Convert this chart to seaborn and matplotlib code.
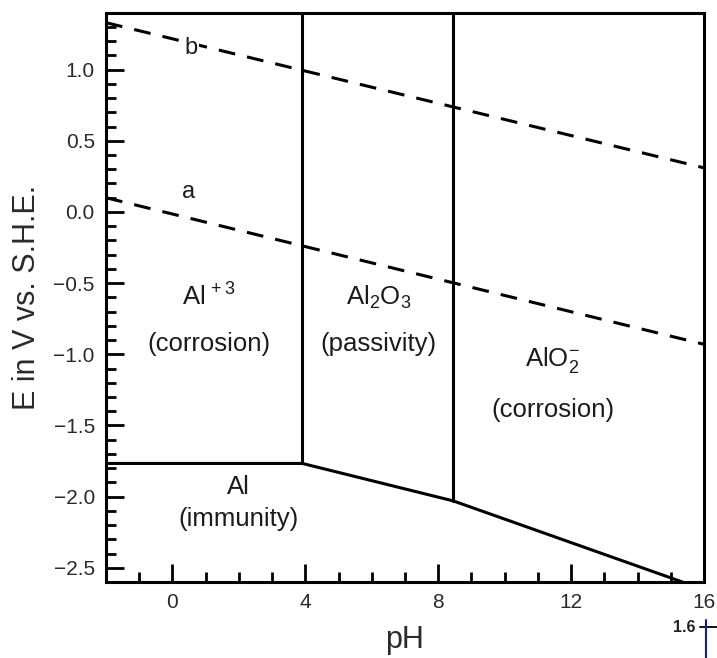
import matplotlib
matplotlib.use("Agg")
import matplotlib.pyplot as plt
from matplotlib.lines import Line2D
from matplotlib.ticker import MultipleLocator
import seaborn as sns
import pandas as pd

# ---- data ----
boundary_ph = [-2.0, 3.91, 8.45, 15.35]
boundary_E = [-1.767, -1.767, -2.03, -2.60]
vert1_ph = [3.91, 3.91]
vert1_E = [-1.767, 1.40]
vert2_ph = [8.45, 8.45]
vert2_E = [-2.03, 1.40]
line_a_ph = [-2.0, 16.0]
line_a_E = [0.10, -0.93]
line_b_ph = [-2.0, 16.0]
line_b_E = [1.33, 0.31]

region_labels = ["Al$^{\\,+3}$", "(corrosion)", "Al$_2$O$_3$", "(passivity)",
                 "AlO$_2^{-}$", "(corrosion)", "Al", "(immunity)"]
region_ph = [1.1, 1.1, 6.2, 6.2, 11.45, 11.45, 2.0, 2.0]
region_E = [-0.60, -0.93, -0.60, -0.93, -1.04, -1.39, -1.93, -2.16]

x_ticks = [0, 4, 8, 12, 16]
y_ticks = [1.0, 0.5, 0.0, -0.5, -1.0, -1.5, -2.0, -2.5]

sns.set_style("white")
plt.rcParams["font.family"] = ["Liberation Sans", "DejaVu Sans"]
plt.rcParams["mathtext.fontset"] = "custom"
plt.rcParams["mathtext.rm"] = "Liberation Sans"
plt.rcParams["mathtext.it"] = "Liberation Sans"

fig = plt.figure(figsize=(7.17, 6.58), dpi=100)
ax = fig.add_axes([0.1478, 0.1155, 0.9819 - 0.1478, 0.9807 - 0.1155])

lw = 2.2
kw = dict(color="black", linewidth=lw, sort=False, estimator=None, ax=ax)
sns.lineplot(x=boundary_ph, y=boundary_E, **kw)
sns.lineplot(x=vert1_ph, y=vert1_E, **kw)
sns.lineplot(x=vert2_ph, y=vert2_E, **kw)
sns.lineplot(x=line_a_ph, y=line_a_E, **kw)
ax.lines[-1].set_dashes([5.5, 4])
sns.lineplot(x=line_b_ph, y=line_b_E, **kw)
ax.lines[-1].set_dashes([5.5, 4])

txt = "#1c1c1c"
ax.text(0.55, 1.15, "b", fontsize=17, ha="center", va="center",
        color=txt, bbox=dict(facecolor="white", edgecolor="none", pad=1))
ax.text(0.5, 0.14, "a", fontsize=17, ha="center", va="center",
        color=txt, bbox=dict(facecolor="white", edgecolor="none", pad=1))

for lab, px, py in zip(region_labels, region_ph, region_E):
    ax.text(px, py, lab, fontsize=18.5, ha="center", va="center", color=txt)

ax.set_xlim(-2, 16)
ax.set_ylim(-2.6, 1.4)
ax.set_xticks(x_ticks)
ax.set_yticks(y_ticks)
ax.xaxis.set_minor_locator(MultipleLocator(1))
ax.yaxis.set_minor_locator(MultipleLocator(0.1))
ax.tick_params(which="major", direction="in", length=13, width=2.0,
               labelsize=15, labelcolor="#2a2a2a", color="black",
               bottom=True, left=True, top=False, right=False, pad=8)
ax.tick_params(which="minor", direction="in", length=7, width=2.0,
               color="black", bottom=True, left=True, top=False, right=False)
ax.set_xticklabels([str(t) for t in x_ticks])
ax.set_yticklabels([f"{t:.1f}".replace("-", "\u2212") for t in y_ticks])

for s in ax.spines.values():
    s.set_visible(True)
    s.set_linewidth(2.2)
    s.set_color("black")

ax.set_xlabel("pH", fontsize=22, color="#2a2a2a", labelpad=9)
ax.set_ylabel("E in V vs. S.H.E.", fontsize=22, color="#2a2a2a", labelpad=8)

# small cropped fragment in the lower-right corner of the reference
fig.text(684 / 717, 1 - 627 / 658, "1.6", fontsize=11.5, fontweight="bold",
         ha="center", va="center", color="#222222")
fig.add_artist(Line2D([700 / 717, 717 / 717], [1 - 627 / 658, 1 - 627 / 658],
                      color="black", linewidth=1.3, transform=fig.transFigure))
fig.add_artist(Line2D([706 / 717, 706 / 717], [1 - 620 / 658, 0],
                      color="#1a1aa0", linewidth=1.5, transform=fig.transFigure))

fig.savefig("out.png", dpi=100)
